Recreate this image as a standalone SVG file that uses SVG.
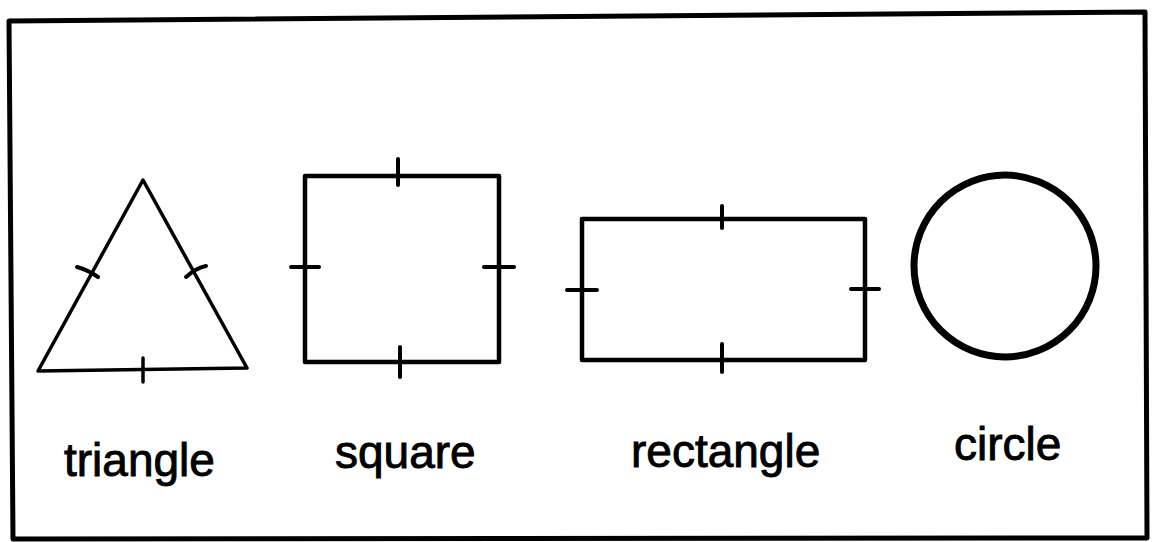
<svg xmlns="http://www.w3.org/2000/svg" width="1152" height="542" viewBox="0 0 1152 542">
<style>
.ln{fill:none;stroke:#000;stroke-linecap:round;stroke-linejoin:round}
.lbl{font-family:"Liberation Sans",Arial,sans-serif;font-size:46px;fill:#000;stroke:#000;stroke-width:0.9}
</style>
<rect x="0" y="0" width="1152" height="542" fill="#fff"/>
<path class="ln" d="M9,21 L1145,12 L1147,538 L13,539 Z" stroke-width="5"/>
<g id="triangle">
<path class="ln" d="M38,371 L143,180 L247,368 Z" stroke-width="3.5"/>
<path class="ln" d="M77,267 Q88,270 98,277" stroke-width="4"/>
<path class="ln" d="M186,277 Q196,268 206,266" stroke-width="4"/>
<line class="ln" x1="143" y1="358" x2="143" y2="382" stroke-width="3.5"/>
<text class="lbl" x="64" y="476">triangle</text>
</g>
<g id="square">
<rect class="ln" x="305" y="176" width="194" height="186" stroke-width="4.5"/>
<line class="ln" x1="398" y1="159" x2="398" y2="185" stroke-width="4"/>
<line class="ln" x1="291" y1="267" x2="319" y2="267" stroke-width="4"/>
<line class="ln" x1="484" y1="267" x2="514" y2="267" stroke-width="4"/>
<line class="ln" x1="400" y1="347" x2="400" y2="377" stroke-width="4"/>
<text class="lbl" x="335" y="468">square</text>
</g>
<g id="rectangle">
<rect class="ln" x="582" y="219" width="283" height="141" stroke-width="4.5"/>
<line class="ln" x1="722" y1="206" x2="722" y2="228" stroke-width="4"/>
<line class="ln" x1="567" y1="290" x2="597" y2="290" stroke-width="4"/>
<line class="ln" x1="851" y1="289" x2="879" y2="289" stroke-width="4"/>
<line class="ln" x1="722" y1="344" x2="722" y2="372" stroke-width="4"/>
<text class="lbl" x="631" y="467">rectangle</text>
</g>
<g id="circle">
<circle class="ln" cx="1005" cy="266" r="91" stroke-width="7"/>
<text class="lbl" x="954" y="460">circle</text>
</g>
<g id="connectors"></g>
</svg>
